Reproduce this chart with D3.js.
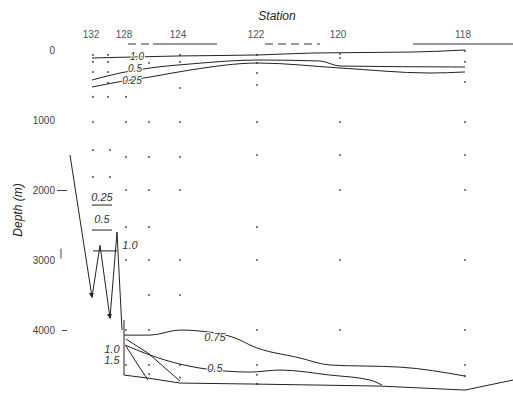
<!DOCTYPE html>
<html>
<head>
<meta charset="utf-8">
<script src="https://cdn.jsdelivr.net/npm/d3@7"></script>
<style>
body { margin: 0; background: #fff; }
text { font-family: "Liberation Sans", Arial, sans-serif; }
</style>
</head>
<body>
<svg id="chart" width="513" height="395"></svg>
<script>
// stations (distance along section, km) and depth ticks
var stationNames = ["132", "128", "124", "122", "120", "118"];
var stationKm = [0, 33, 87, 165, 247, 372];
var depthTicks = [0, 1000, 2000, 3000, 4000];

// contours near the surface [km, depth m]
var topC10 = [[-1, 114], [40, 100], [87, 85], [165, 71], [220, 43], [320, 29], [372, 0]];
var topC05 = [[-1, 429], [27, 329], [57, 257], [97, 200], [165, 143], [227, 157], [247, 229], [372, 243]];
var topC025 = [[-1, 529], [25, 457], [57, 386], [97, 286], [165, 186], [247, 257], [337, 329], [372, 314]];

// deep contours
var deepC075 = [[31, 4073], [57, 4073], [87, 4000], [107, 4015], [147, 4143], [157, 4215], [207, 4400], [237, 4500], [307, 4530], [372, 4658]];
var deepC05 = [[32, 4215], [57, 4358], [87, 4487], [107, 4544], [157, 4601], [187, 4572], [237, 4644], [277, 4715], [289, 4787]];
var deepC10 = [[33, 4130], [55, 4330], [87, 4730]];
var deepC15 = [[33, 4230], [45, 4500], [55, 4715]];
var bracket025 = [[-1, 2215], [19, 2215]];
var bracket05 = [[-1, 2572], [19, 2572]];

// sea floor
var bottom = [[31, 3858], [31, 4644], [55, 4687], [87, 4758], [165, 4773], [287, 4801], [372, 4858], [420, 4715]];

// flow arrows on the west side
var flowA = [[-23, 1500], [-1, 3530]];
var flowB = [[-1, 3530], [7, 2790], [17, 3830]];
var flowC = [[17, 3830], [24, 2600], [29, 4000]];
var flowBar = [[0, 2870], [24, 2870]];

// sample bottles [km, depth]
var samples = [
    [0, 70], [15, 70], [87, 70], [164, 70], [247, 57], [372, 14],
    [0, 170], [15, 170], [56, 186], [87, 170], [164, 186], [247, 114], [372, 171],
    [0, 314], [15, 314], [164, 329], [372, 457],
    [15, 471], [87, 543], [164, 500],
    [0, 671], [15, 671], [33, 671],
    [0, 1030], [33, 1030], [56, 1030], [87, 1030], [164, 1030], [247, 1030], [372, 1030],
    [0, 1430], [17, 1430],
    [33, 1530], [56, 1530], [87, 1530], [164, 1500], [247, 1500], [372, 1500],
    [0, 1815], [17, 1815],
    [33, 2000], [56, 2000], [87, 2000], [247, 2000], [372, 2000],
    [33, 2530], [56, 2530], [164, 2530],
    [33, 3000], [56, 3000], [87, 3000], [164, 3000], [247, 3000], [372, 3000],
    [56, 3500], [87, 3500],
    [33, 4000], [56, 4000], [164, 4000], [247, 4000], [372, 4000],
    [33, 4500], [56, 4500], [87, 4500], [164, 4500], [372, 4500],
    [56, 4630], [87, 4680], [164, 4640], [372, 4660],
    [164, 4770]
];

// top ship-track segments [from km, to km, dashed]
var trackSegs = [[35, 60, 1], [60, 124, 0], [172, 227, 1], [320, 420, 0]];

// contour labels
var labels = [
    {t: "1.0", km: 44, d: 90},
    {t: "0.5", km: 42, d: 265},
    {t: "0.25", km: 39, d: 440},
    {t: "0.25", km: 9, d: 2100},
    {t: "0.5", km: 9, d: 2415},
    {t: "1.0", km: 37, d: 2787},
    {t: "0.75", km: 122, d: 4100},
    {t: "0.5", km: 122, d: 4544},
    {t: "1.0", km: 19, d: 4272},
    {t: "1.5", km: 19, d: 4430}
];

var svg = d3.select("#chart");

var x = d3.scaleLinear().domain([0, 420]).range([93, 513]);
var y = d3.scaleLinear().domain([0, 4000]).range([50, 330]);

svg.append("defs").append("marker")
    .attr("id", "arrow")
    .attr("viewBox", "0 0 6 6")
    .attr("refX", 5).attr("refY", 3)
    .attr("markerWidth", 5).attr("markerHeight", 6)
    .attr("orient", "auto")
    .append("path").attr("d", "M0,0L6,3L0,6Z").attr("fill", "#222");

// titles
svg.append("text")
    .attr("x", 277).attr("y", 20)
    .attr("text-anchor", "middle")
    .attr("font-style", "italic")
    .attr("font-size", 12)
    .attr("fill", "#222")
    .text("Station");

svg.append("text")
    .attr("transform", "translate(22,210) rotate(-90)")
    .attr("text-anchor", "middle")
    .attr("font-style", "italic")
    .attr("font-size", 12)
    .attr("fill", "#222")
    .text("Depth (m)");

// station labels
svg.append("g").selectAll("text")
    .data(stationNames)
    .enter().append("text")
    .attr("x", function (d, i) { return x(stationKm[i]) - 2; })
    .attr("y", 38)
    .attr("text-anchor", "middle")
    .attr("font-size", 10)
    .attr("fill", "#555")
    .text(function (d) { return d; });

// track segments above the section
svg.append("g").selectAll("line")
    .data(trackSegs)
    .enter().append("line")
    .attr("x1", function (d) { return x(d[0]); })
    .attr("x2", function (d) { return x(d[1]); })
    .attr("y1", y(0) - 6).attr("y2", y(0) - 6)
    .attr("stroke", "#333")
    .attr("stroke-width", 1)
    .attr("stroke-dasharray", function (d) { return d[2] ? "8,5" : null; });

// depth axis
var yAxis = d3.axisLeft(y)
    .tickValues(depthTicks)
    .tickSize(10)
    .tickPadding(2)
    .tickFormat(d3.format("d"));

var axisG = svg.append("g")
    .attr("transform", "translate(67,0)")
    .call(yAxis);
axisG.select(".domain").remove();
axisG.selectAll("text").attr("font-size", 10).attr("fill", "#444").attr("font-family", "Liberation Sans, Arial, sans-serif");
axisG.selectAll(".tick line")
    .attr("stroke", "#444")
    .attr("opacity", function (d) { return d >= 2000 ? 1 : 0; })
    .attr("x1", function (d) { return d === 3000 ? -6 : 0; })
    .attr("x2", function (d) { return d === 3000 ? -6 : (d === 4000 ? -5 : -10); })
    .attr("y1", function (d) { return d === 3000 ? -12 : 0; })
    .attr("y2", function (d) { return d === 3000 ? -2 : 0; });

// sample bottles
svg.append("g").selectAll("circle")
    .data(samples)
    .enter().append("circle")
    .attr("cx", function (d) { return x(d[0]); })
    .attr("cy", function (d) { return y(d[1]); })
    .attr("r", 1.1)
    .attr("fill", "#666");

var smooth = d3.line()
    .x(function (d) { return x(d[0]); })
    .y(function (d) { return y(d[1]); })
    .curve(d3.curveMonotoneX);

var straight = d3.line()
    .x(function (d) { return x(d[0]); })
    .y(function (d) { return y(d[1]); });

var contourG = svg.append("g")
    .attr("fill", "none")
    .attr("stroke", "#222")
    .attr("stroke-width", 1);

[topC10, topC05, topC025, deepC075, deepC05].forEach(function (c) {
    contourG.append("path").attr("d", smooth(c));
});
[deepC10, deepC15, bracket025, bracket05, bottom, flowC, flowBar].forEach(function (c) {
    contourG.append("path").attr("d", straight(c));
});
[flowA, flowB].forEach(function (c) {
    contourG.append("path").attr("d", straight(c)).attr("marker-end", "url(#arrow)");
});

// labels with white halo to break the lines
svg.append("g").selectAll("text")
    .data(labels)
    .enter().append("text")
    .attr("x", function (d) { return x(d.km); })
    .attr("y", function (d) { return y(d.d); })
    .attr("dy", "0.35em")
    .attr("text-anchor", "middle")
    .attr("font-style", "italic")
    .attr("font-size", function (d) { return d.d < 1000 ? 10 : 11; })
    .attr("fill", "#333")
    .attr("stroke", "#fff")
    .attr("stroke-width", 2)
    .attr("paint-order", "stroke")
    .text(function (d) { return d.t; });
</script>
</body>
</html>
